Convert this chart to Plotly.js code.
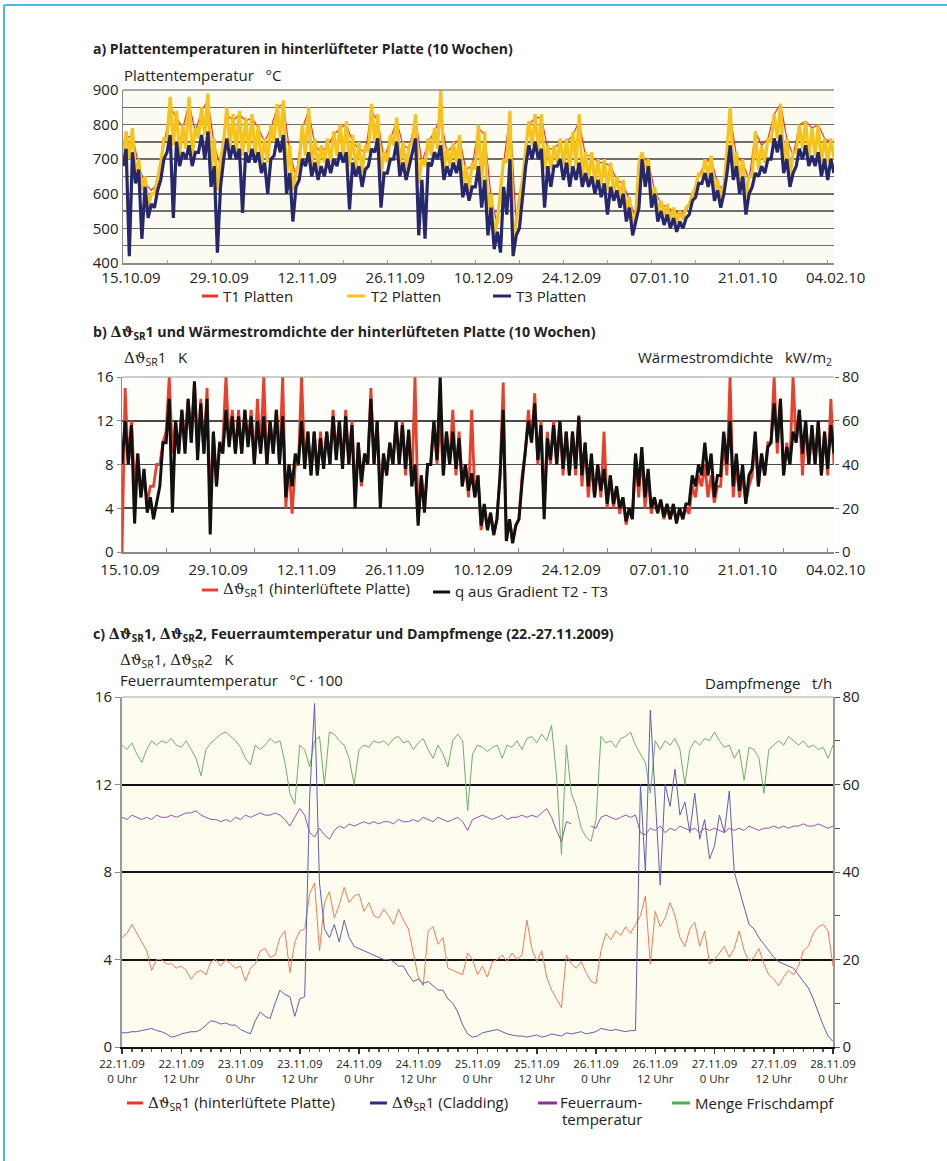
<!DOCTYPE html>
<html><head><meta charset="utf-8">
<script src="https://cdn.plot.ly/plotly-3.0.1.min.js"></script>
<style>html,body{margin:0;padding:0;background:#fff}#chart{width:947px;height:1161px}</style>
</head><body><div id="chart"></div><script>
// ---------------- DATA ----------------
// Chart a: T1 daily (read at midday), T2/T3 half-daily readings from 15.10.2009
const T1_platten = [760,770,680,630,610,630,740,850,820,790, 860,780,840,870,740,680,830,810,830,810,
 820,790,750,790,850,860,720,650,790,840, 740,720,740,770,790,800,750,730,720,840,
 810,700,760,810,740,730,820,690,750,780, 820,720,740,760,670,680,790,770,590,510,
 690,830,510,630,800,820,820,730,730,750, 750,770,810,710,710,690,690,680,640,630,
 580,530,710,690,610,570,560,550,540,550, 590,650,690,700,630,610,830,710,690,640,
 780,740,760,830,860,760,710,800,810,790, 800,760,750];
const T2_platten = [710,780, 700,790, 650,700, 610,650, 560,600, 600,640, 690,760, 760,880, 740,840, 710,800,
 730,880, 710,790, 760,850, 770,890, 670,760, 610,700, 750,850, 730,830, 720,840, 710,820,
 720,830, 710,800, 680,760, 690,800, 750,860, 760,870, 650,740, 610,660, 690,800, 710,850,
 680,760, 670,740, 690,760, 690,780, 710,800, 710,810, 680,770, 670,750, 660,740, 720,860,
 750,830, 650,720, 690,770, 740,820, 680,750, 670,740, 750,830, 630,700, 680,760, 710,790,
 730,900, 670,730, 680,750, 690,770, 620,680, 610,690, 670,800, 630,780, 550,600, 480,520,
 610,700, 690,840, 470,520, 590,640, 730,810, 740,830, 720,830, 670,740, 670,740, 690,760,
 680,760, 670,780, 680,830, 650,720, 640,720, 630,700, 620,700, 610,690, 600,650, 590,640,
 550,590, 510,540, 690,720, 670,700, 590,620, 545,580, 535,570, 525,560, 515,550, 525,560,
 570,600, 620,660, 650,700, 650,710, 600,640, 590,620, 730,850, 670,720, 640,700, 590,650,
 650,780, 670,740, 690,760, 750,830, 760,860, 690,760, 650,720, 720,800, 730,810, 700,790,
 710,800, 690,760, 690,760, 700];
const T3_platten = [680,730, 420,720, 630,670, 470,620, 530,570, 560,610, 640,700, 720,770, 530,750, 680,720,
 700,740, 680,720, 720,770, 700,780, 620,680, 430,620, 700,760, 700,740, 700,730, 545,720,
 690,730, 690,720, 660,690, 600,700, 710,760, 720,770, 600,660, 520,620, 640,700, 680,720,
 650,690, 640,680, 650,700, 660,700, 680,720, 690,720, 555,690, 650,680, 620,670, 680,730,
 720,760, 560,660, 660,700, 700,750, 650,690, 640,680, 720,760, 480,640, 470,690, 680,720,
 700,740, 640,680, 650,690, 660,700, 590,630, 580,620, 620,680, 560,640, 480,560, 440,490,
 430,620, 540,700, 420,480, 500,600, 680,740, 700,750, 700,730, 560,680, 620,680, 680,700,
 640,690, 620,680, 640,690, 620,660, 620,650, 600,640, 590,630, 540,620, 580,610, 560,600,
 520,560, 480,520, 560,700, 620,680, 560,600, 520,550, 510,540, 500,530, 490,520, 500,530,
 540,580, 590,630, 630,660, 620,660, 580,610, 560,600, 660,740, 640,680, 600,650, 540,600,
 620,660, 650,680, 660,700, 700,760, 720,770, 660,700, 620,660, 680,730, 700,740, 680,710,
 680,720, 650,700, 640,700, 660];
// Chart b: half-daily readings
const dTheta_platte = [0,15, 8,12, 6,9, 5,7, 4.5,6, 6,8, 8,10, 11,16, 9,12, 9,13,
 10,14, 10,15.5, 9,14, 9,15, 4,11, 6,10, 10,16, 10,13, 9,13, 9,13,
 10,13, 8,14, 9,16, 8,12, 9,13, 8,16, 4,8, 3.5,8, 8,16, 8,11,
 7,11, 7,11, 8,11, 8,13, 9,12, 8,13, 8,12, 5,10, 6,9, 8,15,
 8,12, 5,9, 7,10, 8,12, 8,12, 7,11, 6,16, 3,7, 4,8, 8,12,
 8,12, 7,11, 8,13, 7,11, 6,8, 5,13, 5,7, 2,4, 2,3.5, 1.5,3,
 7,15.5, 1,3, 1,2.5, 3,7, 9,13, 10,14.5, 8,12, 4,11, 8,12, 8,12,
 7,11, 7,11, 7,12.5, 6,10, 5,8, 5,8, 5,11, 4,7, 4,6, 3.5,5,
 2.5,4, 3,9, 5,9, 4,7, 3.5,5, 3.5,4.5, 3,4, 3,4, 3,4, 3,4,
 3.5,6, 5,7, 6,8, 5,7, 4.5,6, 6,10, 7,16, 5,8, 5,7, 4.5,6,
 7,10, 6,9, 7,10, 10,16, 9,14, 7,10, 8,16, 10,13, 7,12, 8,11,
 8,12, 7,11, 7,14, 8];
const q_gradient = [40,60, 40,58, 13,45, 25,38, 18,25, 15,22, 30,50, 50,70, 18,60, 45,65,
 45,70, 50,78, 42,68, 45,70, 8,55, 30,50, 45,65, 48,62, 45,62, 45,65,
 48,62, 40,60, 45,62, 40,60, 45,65, 40,62, 25,40, 30,45, 40,60, 38,55,
 35,55, 35,52, 38,55, 40,62, 42,60, 38,62, 40,58, 20,50, 32,45, 40,70,
 40,60, 20,45, 35,50, 40,60, 40,58, 38,56, 30,40, 12,35, 18,40, 40,60,
 42,80, 35,55, 40,55, 38,52, 30,40, 28,36, 25,35, 12,22, 10,18, 8,15,
 35,65, 5,15, 4,12, 15,32, 45,60, 50,68, 42,58, 15,52, 42,58, 40,60,
 38,55, 35,55, 38,62, 35,50, 30,45, 25,40, 28,38, 22,35, 22,30, 20,25,
 14,20, 15,45, 30,48, 25,38, 20,25, 18,24, 16,22, 15,22, 13,20, 15,22,
 22,35, 30,40, 35,50, 35,45, 25,35, 35,55, 40,60, 30,45, 28,40, 22,35,
 38,55, 30,45, 35,48, 50,68, 50,70, 35,48, 40,55, 50,65, 45,60, 40,58,
 40,60, 35,55, 38,58, 45];
// Chart c: hourly readings from 22.11.2009 0 Uhr
const c_platte = [5.0,5.2,5.6,5.2,4.8,4.4,3.5,4.0,4.0,3.8, 3.8,3.6,3.7,3.5,3.1,3.4,3.5,3.3,3.9,4.0,
 3.7,4.0,3.8,3.6,3.7,3.0,3.6,3.8,4.4,4.5, 4.1,4.2,5.0,5.3,3.4,4.8,5.3,5.4,7.0,7.5,
 4.4,6.6,7.1,5.9,6.5,7.3,6.6,6.9,7.0,6.2, 6.6,6.0,5.9,6.3,6.0,5.6,6.3,5.8,5.4,4.3,
 3.2,2.8,5.3,5.5,4.7,5.0,3.6,3.5,3.4,3.3, 4.3,4.0,3.3,3.7,3.2,3.9,4.0,4.2,3.9,4.3,
 4.0,4.2,5.8,4.5,3.9,4.4,3.2,2.6,2.2,1.8, 4.2,3.8,3.6,3.9,3.4,3.0,2.9,4.4,5.2,4.9,
 5.3,5.1,5.5,5.2,5.6,6.0,6.9,3.8,6.2,5.5, 5.9,6.6,6.0,5.0,4.6,5.4,5.7,4.6,5.3,3.8,
 4.0,4.3,4.6,4.1,4.5,5.3,4.4,3.9,4.1,4.5, 3.8,3.3,3.1,2.8,3.2,3.5,3.3,3.7,4.4,4.6,
 5.2,5.5,5.6,5.3,3.7];
const c_cladding = [0.65,0.65,0.7,0.7,0.75,0.8,0.85,0.75,0.7,0.6, 0.45,0.5,0.6,0.65,0.7,0.7,0.8,1.0,1.2,1.15,
 1.05,1.1,1.0,1.0,0.8,0.7,0.6,1.2,1.6,1.4, 1.3,2.0,2.6,2.4,2.3,1.4,2.2,2.3,11.4,15.7,
 7.5,5.4,5.0,5.6,4.8,5.8,5.0,4.6,4.5,4.4, 4.3,4.2,4.1,4.0,4.0,3.9,3.7,3.7,3.3,3.0,
 3.1,2.9,3.0,2.8,2.6,2.6,2.2,2.0,1.6,1.0, 0.6,0.45,0.5,0.65,0.7,0.75,0.8,0.7,0.6,0.55,
 0.5,0.5,0.45,0.5,0.55,0.45,0.5,0.6,0.55,0.5, 0.65,0.6,0.65,0.7,0.6,0.65,0.7,0.85,0.8,0.75,
 0.8,0.75,0.7,0.75,0.75,12.0,8.0,15.4,11.5,7.4, 12.0,11.0,12.7,10.6,11.2,9.8,11.6,9.5,10.4,8.6,
 9.2,10.6,9.8,11.7,8.0,7.2,6.3,5.6,5.4,5.0, 4.7,4.4,4.1,3.9,3.8,3.7,3.6,3.3,3.0,2.7,
 2.2,1.6,1.0,0.5,0.25];
const c_feuerraum = [10.5,10.4,10.6,10.5,10.4,10.5,10.4,10.6,10.5,10.5, 10.6,10.5,10.6,10.7,10.7,10.8,10.6,10.5,10.4,10.4,
 10.3,10.4,10.3,10.5,10.4,10.6,10.5,10.6,10.7,10.6, 10.6,10.7,10.6,10.4,10.1,10.5,10.9,10.6,9.8,9.6,
 10.0,9.7,9.5,9.9,10.1,10.0,10.2,10.1,10.2,10.3, 10.2,10.3,10.2,10.3,10.3,10.2,10.4,10.3,10.3,10.4,
 10.3,10.5,10.4,10.3,10.5,10.4,10.3,10.4,10.5,10.3, 9.9,10.4,10.5,10.6,10.5,10.4,10.5,10.6,10.4,10.5,
 10.5,10.6,10.5,10.6,10.5,10.7,10.9,10.5,9.9,9.4, 10.3,10.2,null,10.3,null,10.1,10.0,10.5,10.6,10.5,
 10.4,10.5,10.6,10.5,10.6,9.8,9.7,10.0,9.9,10.1, 9.8,10.0,9.9,10.1,10.0,9.9,10.0,9.8,10.0,9.9,
 10.0,9.9,9.8,10.0,9.9,10.0,9.9,10.1,10.0,9.9, 10.0,10.0,10.1,10.0,10.1,10.0,10.1,10.1,10.2,10.1,
 10.1,10.2,10.1,10.0,10.1];
const c_dampf = [69,68,69.5,67,65,68,70,69,70,69.5, 70.5,69,68.5,70,68,66,62,68,69.5,70.5,
 71.5,72,71,70,68.5,66,64.5,69,68,69, 70.5,69.5,70,65,58,55.5,69,68,64,70,
 71,60,72,71.5,70,69,66,60,68,69, 68.5,70,69.5,70,69,70.5,71,69.5,70,68,
 69.5,70.5,68,66,69,67,64,70,71.5,70, 54,67,69,68.5,67.5,68.5,69,66,69,68.5,
 70,68,70.5,71,69.5,71.5,70,73.5,62,44, 69,58,55,50,48,47,52,71,69.5,70,
 68.5,70.5,71,72,69,67,65,58,70,68, 70,69,70.5,68,60,68,70,69,70.5,70,
 72,70,68.5,69,66,68,61,68.5,68,66, 58,68,69,70,69,71,70,69,70,68.5,
 69,68,68.5,66,69];
// Tick labels
const tickDatesAB = ['2009-10-15','2009-10-29','2009-11-12','2009-11-26','2009-12-10','2009-12-24','2010-01-07','2010-01-21','2010-02-04'];
const tickLabelsAB = ['15.10.09','29.10.09','12.11.09','26.11.09','10.12.09','24.12.09','07.01.10','21.01.10','04.02.10'];
const tickDatesC = ['2009-11-22 00:00','2009-11-22 12:00','2009-11-23 00:00','2009-11-23 12:00','2009-11-24 00:00','2009-11-24 12:00','2009-11-25 00:00','2009-11-25 12:00','2009-11-26 00:00','2009-11-26 12:00','2009-11-27 00:00','2009-11-27 12:00','2009-11-28 00:00'];
const tickLabelsC = ['22.11.09<br>0 Uhr','22.11.09<br>12 Uhr','23.11.09<br>0 Uhr','23.11.09<br>12 Uhr','24.11.09<br>0 Uhr','24.11.09<br>12 Uhr','25.11.09<br>0 Uhr','25.11.09<br>12 Uhr','26.11.09<br>0 Uhr','26.11.09<br>12 Uhr','27.11.09<br>0 Uhr','27.11.09<br>12 Uhr','28.11.09<br>0 Uhr'];
const ticksA = [400,500,600,700,800,900];
const ticksB = [0,4,8,12,16];
const ticksBright = [0,20,40,60,80];

// ---------------- HELPERS ----------------
const W = 947, H = 1161;
const X = p => p / W, Y = p => 1 - p / H;
const HOUR = 3600000, DAY = 86400000;
const START_AB = Date.UTC(2009, 9, 15), START_C = Date.UTC(2009, 10, 22);
function fmt(ms){ return new Date(ms).toISOString().slice(0,19).replace('T',' '); }
function dates(t0, step, n){ const a=[]; for(let i=0;i<n;i++) a.push(fmt(t0+i*step)); return a; }
const DT = '<span style="font-family:DejaVu Serif">\u0394\u03d1</span>';
const NB = '\u00a0\u00a0\u00a0';
const FONT = 'Open Sans, Noto Sans, sans-serif';

function ln(y, color, width, ax, ay, t0, step){
  return {x: dates(t0, step, y.length), y: y, xaxis: ax, yaxis: ay, type:'scatter', mode:'lines',
    line:{color: color, width: width, shape:'linear'}, hoverinfo:'skip', connectgaps:false};
}
const traces = [
  ln(T1_platten, '#e8352b', 1.2, 'x', 'y', START_AB + DAY/2, DAY),
  ln(T2_platten, '#f6c21c', 3.2, 'x', 'y', START_AB, DAY/2),
  ln(T3_platten, '#26276c', 3.2, 'x', 'y', START_AB, DAY/2),
  ln(dTheta_platte, '#e8402c', 2.8, 'x2', 'y2', START_AB, DAY/2),
  ln(q_gradient, '#111111', 3.0, 'x2', 'y3', START_AB, DAY/2),
  ln(c_dampf, '#6fae6c', 1, 'x3', 'y5', START_C, HOUR),
  ln(c_feuerraum, '#9a52ad', 1, 'x3', 'y4', START_C, HOUR),
  ln(c_platte, '#ef7c55', 1, 'x3', 'y4', START_C, HOUR),
  ln(c_cladding, '#5c5fb4', 1, 'x3', 'y4', START_C, HOUR)
];

function ann(x, y, text, o){
  o = o || {};
  return {xref:'paper', yref:'paper', x:X(x), y:Y(y), text:text, showarrow:false,
    xanchor:o.xa||'left', yanchor:o.ya||'middle', align:o.align||'left',
    font:{family:FONT, size:o.size||15, color:'#222'}};
}
function hline(x0, x1, y, color, width, layer){
  return {type:'line', xref:'paper', yref:'paper', x0:X(x0), x1:X(x1), y0:Y(y), y1:Y(y),
    line:{color:color, width:width}, layer:layer||'above'};
}
function rect(x0, x1, y0, y1, fill){
  return {type:'rect', xref:'paper', yref:'paper', x0:X(x0), x1:X(x1), y0:Y(y1), y1:Y(y0),
    fillcolor:fill, line:{width:0}, layer:'below'};
}

const annotations = [
  ann(91, 49, '<b>a) Plattentemperaturen in hinterlüfteter Platte (10 Wochen)</b>', {size:14}),
  ann(122, 75, 'Plattentemperatur' + NB + '°C'),
  ann(221, 296, 'T1 Platten'), ann(369, 296, 'T2 Platten'), ann(514, 296, 'T3 Platten'),
  ann(91, 332, '<b>b) ' + DT + '<sub>SR</sub>1 und Wärmestromdichte der hinterlüfteten Platte (10 Wochen)</b>', {size:14.2}),
  ann(122, 358, DT + '<sub>SR</sub>1' + NB + 'K'),
  ann(834, 358, 'Wärmestromdichte' + NB + 'kW/m<sub>2</sub>', {xa:'right'}),
  ann(221, 589, DT + '<sub>SR</sub>1 (hinterlüftete Platte)'),
  ann(453, 591, 'q aus Gradient T2 - T3'),
  ann(91, 635, '<b>c) ' + DT + '<sub>SR</sub>1, ' + DT + '<sub>SR</sub>2, Feuerraumtemperatur und Dampfmenge (22.-27.11.2009)</b>', {size:14.2}),
  ann(118, 660, DT + '<sub>SR</sub>1, ' + DT + '<sub>SR</sub>2' + NB + 'K'),
  ann(118, 680, 'Feuerraumtemperatur' + NB + '°C · 100'),
  ann(834, 683, 'Dampfmenge' + NB + 't/h', {xa:'right'}),
  ann(146, 1103, DT + '<sub>SR</sub>1 (hinterlüftete Platte)'),
  ann(390, 1103, DT + '<sub>SR</sub>1 (Cladding)'),
  ann(558, 1102, 'Feuerraum-'),
  ann(560, 1119, 'temperatur'),
  ann(693, 1103, 'Menge Frischdampf')
];

const shapes = [
  rect(123, 834, 90, 263, '#fcfbf2'),
  rect(122, 834, 377, 552, '#fdfdfa'),
  rect(122, 833, 697, 1047, '#fdfcee'),
  hline(123, 834, 90, '#8a8a8a', 1.5),
  hline(122, 834, 377, '#9a9a9a', 1.2),
  hline(122, 833, 697, '#a8a8a8', 1.2),
  // legends
  hline(202, 218, 296, '#e8352b', 3), hline(347, 365, 296, '#f6c21c', 3), hline(493, 511, 296, '#27286e', 3),
  hline(202, 218, 590, '#e8402c', 3), hline(433, 450, 592, '#111111', 3),
  hline(127, 143, 1103, '#e8352b', 3), hline(370, 387, 1103, '#2d2e82', 3),
  hline(538, 557, 1103, '#8e2e9c', 3), hline(672, 690, 1103, '#4caf50', 3),
  // frame
  {type:'line', xref:'paper', yref:'paper', x0:X(4), x1:X(947), y0:Y(5), y1:Y(5), line:{color:'#45bde9', width:2}},
  {type:'line', xref:'paper', yref:'paper', x0:X(4), x1:X(4), y0:Y(5), y1:Y(1161), line:{color:'#45bde9', width:2}}
];

const tf = {family:FONT, size:15, color:'#222'};
const weekMinor = {tickmode:'linear', tick0:'2009-10-15', dtick:7*DAY, ticks:'inside', ticklen:3, tickcolor:'#9a9a9a', showgrid:false};
const layout = {
  width: W, height: H, margin:{l:0, r:0, t:0, b:0},
  paper_bgcolor:'#ffffff', plot_bgcolor:'rgba(0,0,0,0)',
  showlegend:false, font:{family:FONT, size:15, color:'#222'},
  xaxis:{domain:[X(123), X(834)], anchor:'y', type:'date', range:['2009-10-15','2010-02-05'],
    tickmode:'array', tickvals:tickDatesAB, ticktext:tickLabelsAB, ticklabelshift:8,
    showgrid:false, zeroline:false, showline:true, linecolor:'#8a8a8a', linewidth:1.5,
    ticks:'inside', ticklen:3, tickcolor:'#9a9a9a', minor:weekMinor, tickfont:tf, fixedrange:true},
  yaxis:{domain:[Y(263), Y(90)], anchor:'x', range:[400,900], tickmode:'array', tickvals:ticksA,
    showgrid:true, gridcolor:'#6e6e6e', gridwidth:1.5,
    minor:{tickmode:'linear', tick0:400, dtick:50, showgrid:true, gridcolor:'#6e6e6e', gridwidth:1.5, ticks:''},
    zeroline:false, showline:true, linecolor:'#8a8a8a', linewidth:1.5,
    ticks:'', tickfont:tf, fixedrange:true},
  xaxis2:{domain:[X(122), X(834)], anchor:'y2', type:'date', range:['2009-10-15','2010-02-05'],
    tickmode:'array', tickvals:tickDatesAB, ticktext:tickLabelsAB, ticklabelshift:8, ticklabelstandoff:3,
    showgrid:false, zeroline:false, showline:true, linecolor:'#8a8a8a', linewidth:1.5,
    ticks:'inside', ticklen:4, tickcolor:'#8a8a8a',
    minor:{tickmode:'linear', tick0:'2009-10-15', dtick:7*DAY, ticks:'inside', ticklen:4, tickcolor:'#8a8a8a', showgrid:false},
    tickfont:tf, fixedrange:true},
  yaxis2:{domain:[Y(552), Y(377)], anchor:'x2', range:[0,16], tickmode:'array', tickvals:ticksB,
    showgrid:true, gridcolor:'#4a4a4a', gridwidth:1.6, zeroline:false, showline:true, linecolor:'#8a8a8a', linewidth:1.5,
    ticks:'outside', ticklen:4, tickcolor:'#8a8a8a', tickfont:tf, fixedrange:true},
  yaxis3:{overlaying:'y2', side:'right', anchor:'x2', range:[0,80], tickmode:'array', tickvals:ticksBright,
    showgrid:false, zeroline:false, showline:false, ticks:'outside', ticklen:4, tickcolor:'#666', tickfont:tf, fixedrange:true},
  xaxis3:{domain:[X(122), X(833)], anchor:'y5', type:'date', range:['2009-11-22 00:00','2009-11-28 00:00'],
    tickmode:'array', tickvals:tickDatesC, ticktext:tickLabelsC,
    showgrid:false, zeroline:false, showline:true, linecolor:'#111', linewidth:2,
    ticks:'outside', ticklen:5, tickwidth:1.5, tickcolor:'#333',
    minor:{tickmode:'linear', tick0:'2009-11-22 00:00', dtick:2*HOUR, ticks:'outside', ticklen:3, tickcolor:'#555', showgrid:false},
    tickfont:{family:FONT, size:11.5, color:'#222'}, fixedrange:true},
  yaxis5:{domain:[Y(1047), Y(697)], anchor:'x3', side:'right', range:[0,80], tickmode:'array',
    tickvals:ticksBright,
    minor:{tickmode:'linear', tick0:0, dtick:10, ticks:'outside', ticklen:5, tickcolor:'#555', showgrid:false},
    showgrid:false, zeroline:false, showline:true, linecolor:'#9a9a9a', linewidth:1.5,
    ticks:'outside', ticklen:5, tickcolor:'#555', tickfont:tf, fixedrange:true},
  yaxis4:{overlaying:'y5', side:'left', anchor:'x3', range:[0,16], tickmode:'array', tickvals:ticksB,
    showgrid:true, gridcolor:'#111', gridwidth:2, zeroline:false, showline:true, linecolor:'#9a9a9a', linewidth:2,
    ticks:'outside', ticklen:5, tickcolor:'#888', tickfont:tf, fixedrange:true},
  annotations: annotations,
  shapes: shapes
};
Plotly.newPlot('chart', traces, layout, {displayModeBar:false, staticPlot:true});
</script></body></html>
